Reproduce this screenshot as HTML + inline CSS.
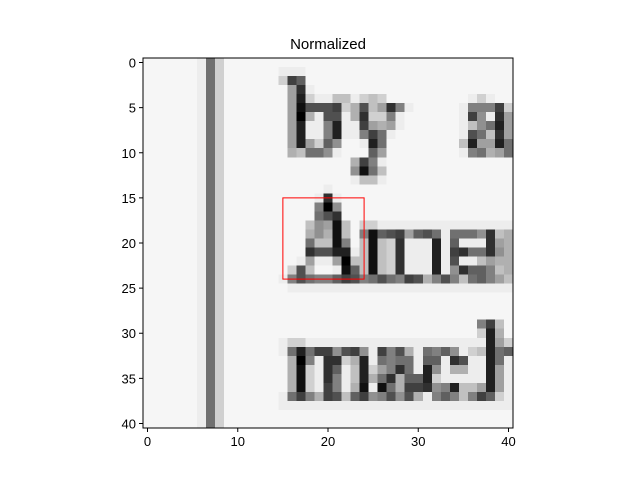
<!DOCTYPE html>
<html><head><meta charset="utf-8"><style>
body{margin:0;background:#fff;}
svg{display:block;font-family:"Liberation Sans","DejaVu Sans",sans-serif;}
</style></head><body>
<svg id="chart" width="640" height="480" viewBox="0 0 640 480">
<text x="328" y="49" text-anchor="middle" font-size="15">Normalized</text>
<g id="cells" shape-rendering="crispEdges"></g>
<g id="overlay"></g>
<g id="axes"></g>
</svg>
<script>
const P = "ffffffe7d";
const F7 = "fffffff", E7 = "ffffffe";
const mRow = "c1cd3eee2e";
const rows = [
P+F7+"fffffffffffffffffffffffff",
P+E7+"eefffffffffffffffffffffff",
P+"ffffffd"+"46fffffffffffffffffffffff",
P+F7+"a3effffffffffffffffffffff",
P+F7+"a2deeccedcdfffffffffedeff",
P+F7+"a15554db5ca38efffffe8884d",
P+F7+"a0be55eb3dd8effffffe49e3a",
P+F7+"a2ee82ee4abaeffffffec972a",
P+F7+"a2ee82ee847efffffffe57c3a",
P+F7+"a2ad69ffe27ffffffffc2aa27",
P+F7+"bc779efff6affffffffe87ba7",
P+F7+"fffffffb48effffffffffffff",
P+F7+"fffffff917cffffffffffffff",
P+F7+"fffffffecceffffffffffffff",
P+F7+"ffffeffffffffffffffffffff",
P+F7+"fffe3efffffffffffffffffff",
P+F7+"fff809fffffffffffffffffff",
P+F7+"fff753ffffffffffffffffffff".slice(0,25),
P+F7+"ffc9a1cfddeeeeeeeeeeeeeee",
P+F7+"ffb9b1cf81654a657e77793cb",
P+F7+"ff7cc18f"+mRow+"6eee3ab",
P+F7+"ff35522e"+mRow+"437739b",
P+F7+"feaeea0c"+mRow+"5eecabb",
P+F7+"d5cffe16"+mRow+"93668cb",
P+E7+"857886458757845b858c768ac",
P+F7+"eeeeeeeeeeeeeeeeeeeeeeeee",
P+F7+"fffffffffffffffffffffffff",
P+F7+"fffffffffffffffffffffffff",
P+F7+"fffffffffffffffffffffffff",
P+F7+"fffffffffffffffffffff84cf",
P+F7+"fffffffffffffffffffffd2bf",
P+E7+"ddeeeeeeeeeeeeeeeeeeee2ad",
P+E7+"727449549e485be7869edc276",
P+F7+"b08e33db2e7877e66e35ee27e",
P+F7+"b1de36ec2da837e29ebbee2ae",
P+F7+"b1de38ec2b73b662deeeee2ae",
P+F7+"b1de48eb1e17b443982cca2ae",
P+E7+"748b45c6498595be868c846de",
P+E7+"eeeeeeeeeeeeeeeeeeeeeeeee",
P+F7+"fffffffffffffffffffffffff",
P+F7+"fffffffffffffffffffffffff"
];
const xTicks = [0,10,20,30,40];
const yTicks = [0,5,10,15,20,25,30,35,40];
const box = [15,15,24,24]; // x0,y0,x1,y1 in data coords

const L=143,T=58,W=370,H=370,N=41;
const sx = v => L + (v+0.5)*W/N;
const sy = v => T + (v+0.5)*H/N;
const level = h => { const v=parseInt(h||'f',16); return v===15?246:(v===14?237:v*16); };
const NS="http://www.w3.org/2000/svg";
const cells=document.getElementById('cells');
rows.forEach((row,r)=>{
  for(let c=0;c<N;c++){
    const v=level(row[c]);
    const el=document.createElementNS(NS,'rect');
    
    
    el.setAttribute('x',sx(c-0.5));el.setAttribute('y',sy(r-0.5));
    el.setAttribute('width',W/N+0.4);el.setAttribute('height',H/N+0.4);
    el.setAttribute('fill',`rgb(${v},${v},${v})`);
    cells.appendChild(el);
  }
});
const ov=document.getElementById('overlay');
const rb=document.createElementNS(NS,'rect');


rb.setAttribute('x',sx(box[0]));rb.setAttribute('y',sy(box[1]));
rb.setAttribute('width',sx(box[2])-sx(box[0]));rb.setAttribute('height',sy(box[3])-sy(box[1]));
rb.setAttribute('fill','none');rb.setAttribute('stroke','#ff0000');rb.setAttribute('stroke-width','1');
ov.appendChild(rb);
const ax=document.getElementById('axes');
const fr=document.createElementNS(NS,'rect');


fr.setAttribute('x',L);fr.setAttribute('y',T);fr.setAttribute('width',W);fr.setAttribute('height',H);
fr.setAttribute('fill','none');fr.setAttribute('stroke','#000');fr.setAttribute('stroke-width','1');
ax.appendChild(fr);
xTicks.forEach(t=>{
  const x=sx(t);
  const ln=document.createElementNS(NS,'line');
  
  
  ln.setAttribute('x1',x);ln.setAttribute('x2',x);ln.setAttribute('y1',T+H);ln.setAttribute('y2',T+H+4);
  ln.setAttribute('stroke','#000');ax.appendChild(ln);
  const tx=document.createElementNS(NS,'text');
  
  
  tx.setAttribute('x',x);tx.setAttribute('y',T+H+18);tx.setAttribute('text-anchor','middle');tx.setAttribute('font-size','13');
  tx.textContent=t;ax.appendChild(tx);
});
yTicks.forEach(t=>{
  const y=sy(t);
  const ln=document.createElementNS(NS,'line');
  
  
  ln.setAttribute('x1',L-4);ln.setAttribute('x2',L);ln.setAttribute('y1',y);ln.setAttribute('y2',y);
  ln.setAttribute('stroke','#000');ax.appendChild(ln);
  const tx=document.createElementNS(NS,'text');
  
  
  tx.setAttribute('x',L-7);tx.setAttribute('y',y+5);tx.setAttribute('text-anchor','end');tx.setAttribute('font-size','13');
  tx.textContent=t;ax.appendChild(tx);
});
</script>
</body></html>
